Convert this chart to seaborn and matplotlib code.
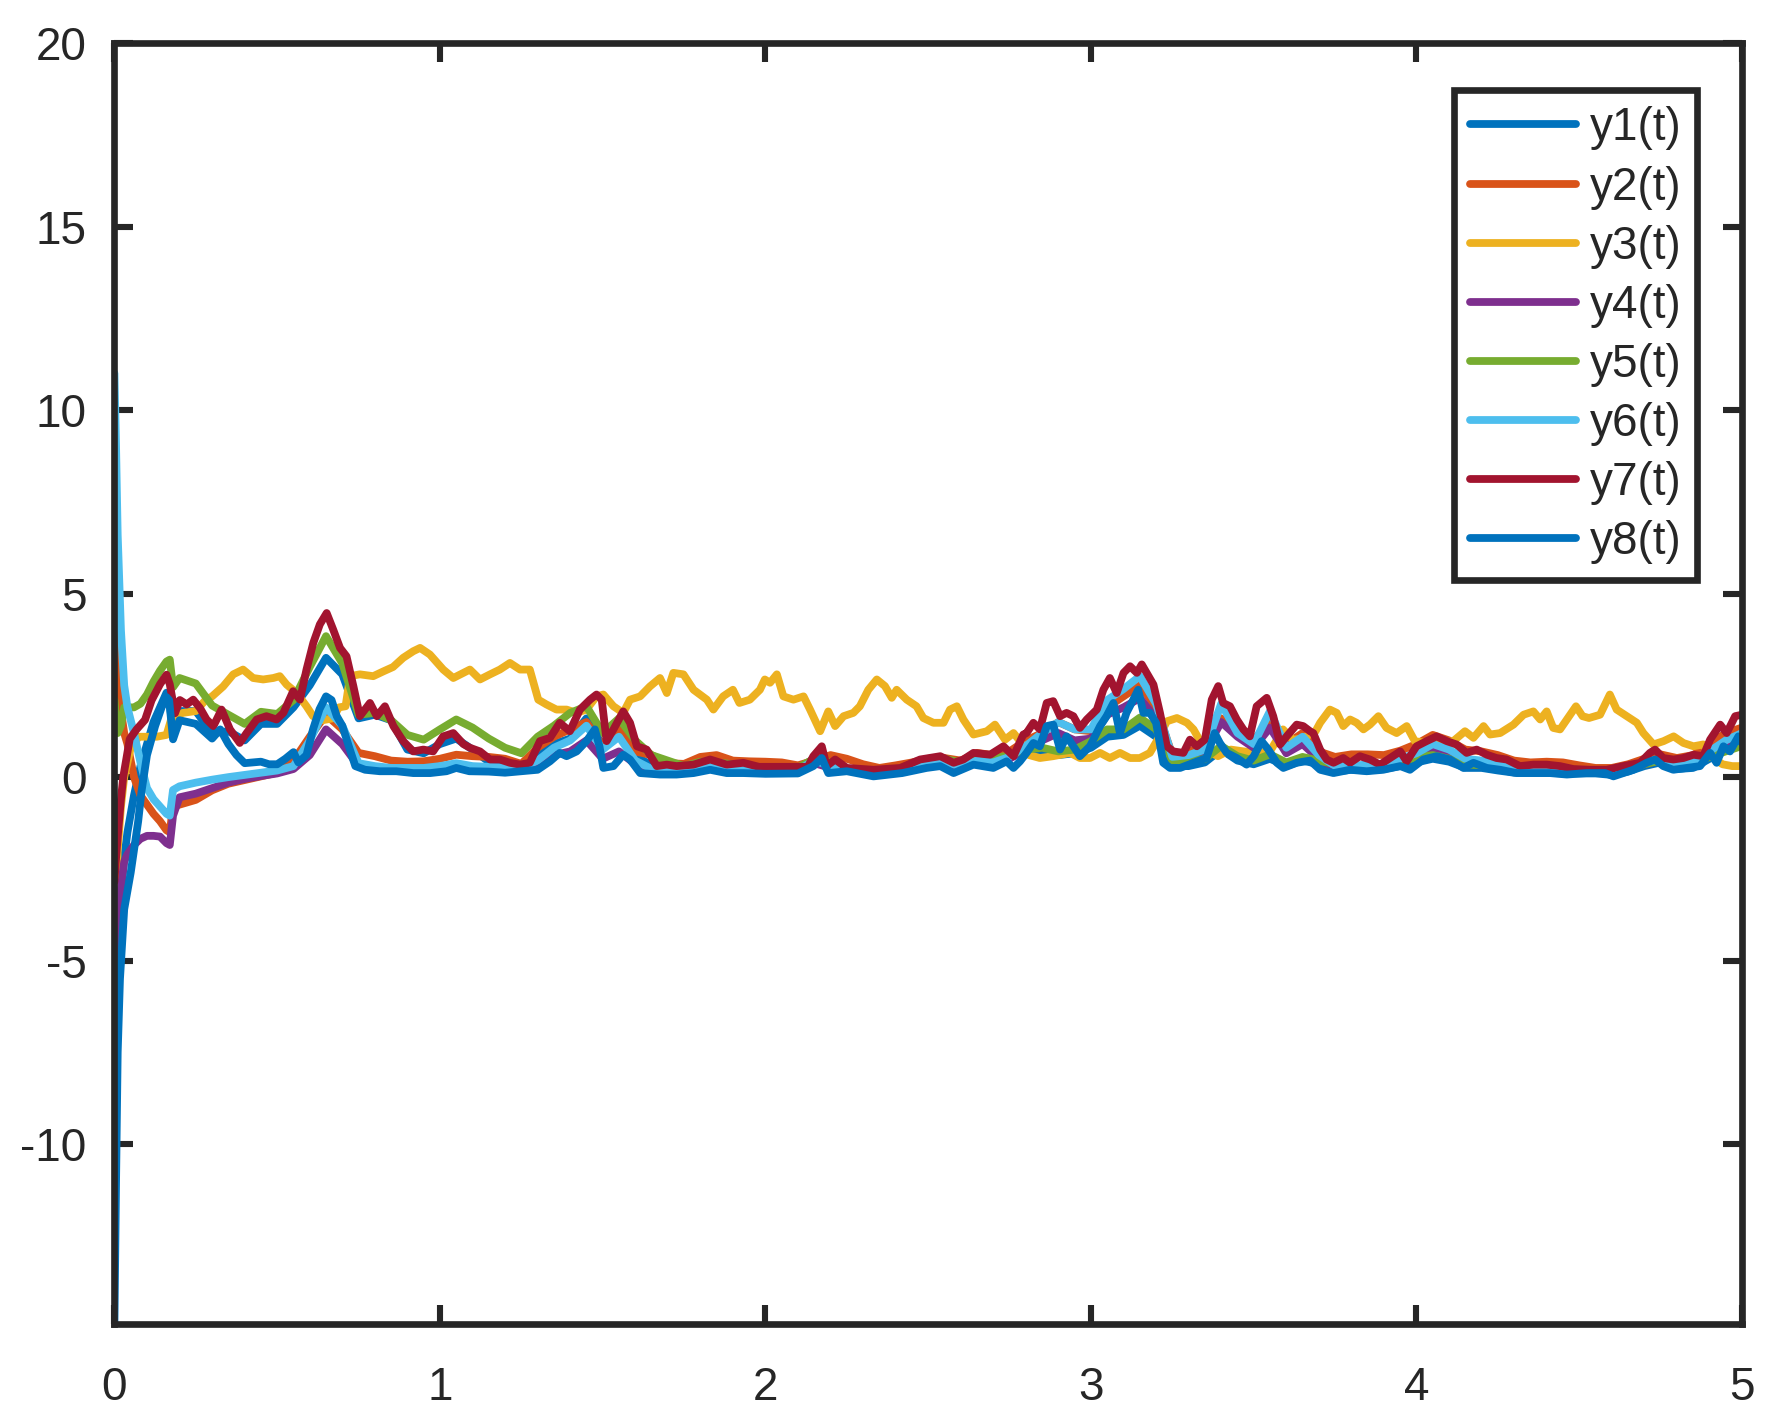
import numpy as np
import pandas as pd
import matplotlib
matplotlib.use("Agg")
import matplotlib.pyplot as plt
import seaborn as sns

# MATLAB default colour order (y8 wraps round to the first colour)
COLORS = ["#0072BD", "#D95319", "#EDB120", "#7E2F8E",
          "#77AC30", "#4DBEEE", "#A2142F", "#0072BD"]
NAMES = ["y1(t)", "y2(t)", "y3(t)", "y4(t)", "y5(t)", "y6(t)", "y7(t)", "y8(t)"]

# shared time grid for the series that sit inside the cluster
T_EARLY = [0, 0.005, 0.01, 0.02, 0.03, 0.04, 0.06, 0.08, 0.1, 0.12, 0.14, 0.16, 0.17, 0.18, 0.2]
T_COARSE = np.r_[T_EARLY, np.round(np.arange(0.25, 5.001, 0.05), 2)]

Y1 = [-9.0, -7.0, -5.0, -3.2, -2.2, -1.5, -0.5, 0.3, 0.9, 1.5, 1.9, 2.3, 2.0, 1.2, 1.8,
      1.8, 1.2, 1.25, 1.0, 1.45, 1.45, 1.9, 2.5, 3.25, 2.8, 1.6, 1.7, 1.55, 0.75, 0.65,
      0.9, 1.05, 0.75, 0.42, 0.4, 0.3, 0.6, 0.9, 1.05, 1.6, 0.85, 1.35, 0.6, 0.3, 0.25, 0.25, 0.35, 0.35, 0.3, 0.28,
      0.24, 0.24, 0.24, 0.5, 0.35, 0.22, 0.16, 0.14, 0.2, 0.35, 0.42, 0.48, 0.35, 0.55, 0.5, 0.6, 0.7, 0.7, 0.6, 0.65,
      0.8, 1.1, 1.15, 1.4, 1.1, 0.3, 0.3, 0.4, 0.75, 0.45, 0.35, 0.5, 0.3, 0.45, 0.35, 0.15, 0.2, 0.18, 0.22, 0.3,
      0.4, 0.5, 0.42, 0.25, 0.25, 0.18, 0.12, 0.12, 0.12, 0.1, 0.1, 0.1, 0.06, 0.15, 0.3, 0.4, 0.22, 0.25, 0.5, 0.75, 0.9]

Y2 = [8.4, 5.5, 3.5, 1.8, 1.2, 0.9, 0.0, -0.5, -0.75, -1.0, -1.2, -1.45, -1.5, -0.8, -0.75,
      -0.62, -0.36, -0.18, -0.08, 0.02, 0.12, 0.45, 1.1, 1.7, 1.3, 0.66, 0.57, 0.45, 0.42, 0.43,
      0.5, 0.61, 0.57, 0.55, 0.5, 0.36, 0.8, 1.1, 1.3, 1.5, 0.84, 1.35, 0.7, 0.6, 0.38, 0.36, 0.55, 0.6, 0.45, 0.43,
      0.42, 0.4, 0.32, 0.45, 0.6, 0.5, 0.35, 0.25, 0.32, 0.4, 0.5, 0.52, 0.45, 0.66, 0.6, 0.7, 1.0, 1.2, 1.5, 1.3,
      1.25, 1.9, 2.2, 2.5, 1.9, 0.6, 0.7, 0.85, 1.6, 1.3, 1.0, 1.55, 0.9, 1.2, 0.7, 0.55, 0.62, 0.62, 0.6, 0.72,
      0.9, 1.15, 1.0, 0.75, 0.7, 0.6, 0.45, 0.4, 0.42, 0.4, 0.32, 0.25, 0.25, 0.35, 0.5, 0.62, 0.52, 0.6, 0.9, 1.2, 1.35]

Y4 = [-6.8, -5.0, -4.0, -3.0, -2.3, -2.1, -1.85, -1.68, -1.6, -1.6, -1.62, -1.8, -1.85, -1.05, -0.55,
      -0.45, -0.3, -0.15, -0.05, 0.03, 0.1, 0.22, 0.6, 1.3, 0.9, 0.3, 0.22, 0.2, 0.18, 0.2,
      0.25, 0.32, 0.25, 0.22, 0.2, 0.2, 0.35, 0.6, 0.7, 1.0, 0.5, 0.7, 0.35, 0.18, 0.15, 0.16, 0.22, 0.25, 0.18, 0.16,
      0.15, 0.15, 0.15, 0.38, 0.25, 0.2, 0.12, 0.08, 0.15, 0.22, 0.3, 0.35, 0.25, 0.42, 0.35, 0.5, 0.75, 1.0, 1.2, 1.0,
      1.05, 1.7, 1.9, 2.15, 1.6, 0.5, 0.55, 0.7, 1.5, 1.1, 0.8, 1.35, 0.65, 0.9, 0.5, 0.25, 0.28, 0.3, 0.3, 0.45,
      0.6, 0.75, 0.65, 0.45, 0.4, 0.3, 0.2, 0.18, 0.18, 0.15, 0.14, 0.13, 0.1, 0.2, 0.35, 0.45, 0.3, 0.35, 0.65, 0.95, 1.1]

Y5 = [2.1, 1.6, 1.2, 1.4, 1.9, 1.9, 1.9, 2.0, 2.25, 2.6, 2.9, 3.15, 3.2, 2.45, 2.7,
      2.55, 1.95, 1.7, 1.45, 1.78, 1.72, 2.1, 3.0, 3.84, 3.1, 1.7, 1.75, 1.55, 1.15, 1.02,
      1.3, 1.57, 1.35, 1.05, 0.8, 0.65, 1.1, 1.4, 1.75, 1.93, 1.2, 1.6, 1.0, 0.6, 0.45, 0.3, 0.42, 0.4, 0.35, 0.3,
      0.26, 0.26, 0.26, 0.5, 0.4, 0.22, 0.18, 0.16, 0.2, 0.35, 0.42, 0.5, 0.4, 0.55, 0.5, 0.6, 0.75, 0.8, 0.7, 0.75,
      0.98, 1.3, 1.3, 1.62, 1.3, 0.45, 0.43, 0.5, 0.85, 0.57, 0.45, 0.62, 0.4, 0.55, 0.45, 0.35, 0.32, 0.3, 0.32, 0.4,
      0.55, 0.6, 0.5, 0.35, 0.32, 0.25, 0.2, 0.2, 0.2, 0.16, 0.15, 0.15, 0.12, 0.2, 0.35, 0.45, 0.3, 0.35, 0.55, 0.7, 0.85]

Y6 = [11.0, 9.0, 6.6, 4.0, 2.5, 1.9, 1.2, 0.4, -0.3, -0.6, -0.8, -1.0, -1.05, -0.35, -0.25,
      -0.15, -0.07, 0.0, 0.06, 0.12, 0.18, 0.3, 1.0, 1.9, 1.4, 0.38, 0.3, 0.25, 0.25, 0.25,
      0.3, 0.38, 0.3, 0.28, 0.26, 0.26, 0.45, 0.8, 1.0, 1.4, 0.75, 1.1, 0.45, 0.22, 0.18, 0.2, 0.25, 0.3, 0.22, 0.2,
      0.18, 0.2, 0.2, 0.45, 0.3, 0.22, 0.15, 0.12, 0.18, 0.25, 0.35, 0.4, 0.3, 0.45, 0.4, 0.55, 0.85, 1.2, 1.5, 1.3,
      1.3, 2.1, 2.4, 2.75, 2.0, 0.55, 0.6, 0.75, 2.0, 1.2, 0.9, 1.8, 0.8, 1.1, 0.6, 0.3, 0.3, 0.35, 0.3, 0.5,
      0.65, 0.9, 0.75, 0.5, 0.45, 0.35, 0.22, 0.2, 0.2, 0.18, 0.15, 0.15, 0.12, 0.22, 0.4, 0.5, 0.35, 0.4, 0.7, 1.0, 1.2]

# series that stand out, read at their own times
Y3_PTS = [(0, -4.5), (0.005, -3.3), (0.01, -2.0), (0.02, -0.8), (0.03, 0.0), (0.05, 0.8), (0.075, 1.1),
          (0.1, 1.1), (0.13, 1.1), (0.16, 1.15), (0.175, 1.6), (0.21, 1.75), (0.25, 1.8), (0.28, 2.1),
          (0.3, 2.2), (0.334, 2.47), (0.365, 2.8), (0.395, 2.93), (0.426, 2.7), (0.457, 2.66), (0.488, 2.7),
          (0.508, 2.75), (0.529, 2.52), (0.56, 2.29), (0.59, 1.93), (0.61, 1.66), (0.64, 1.55), (0.67, 1.6),
          (0.69, 1.9), (0.71, 1.93), (0.724, 2.75), (0.754, 2.8), (0.795, 2.75), (0.826, 2.88), (0.856, 3.0),
          (0.887, 3.25), (0.918, 3.43), (0.939, 3.52), (0.969, 3.34), (1.01, 2.93), (1.041, 2.7), (1.072, 2.84),
          (1.092, 2.93), (1.123, 2.66), (1.154, 2.8), (1.184, 2.93), (1.215, 3.11), (1.246, 2.93), (1.276, 2.93),
          (1.302, 2.11), (1.327, 1.98), (1.358, 1.84), (1.389, 1.84), (1.42, 1.75), (1.45, 1.84), (1.481, 2.2),
          (1.502, 2.25), (1.533, 1.93), (1.563, 1.75), (1.584, 2.11), (1.615, 2.2), (1.645, 2.47), (1.676, 2.7),
          (1.697, 2.29), (1.717, 2.84), (1.748, 2.8), (1.779, 2.38), (1.82, 2.11), (1.84, 1.84), (1.87, 2.2),
          (1.9, 2.38), (1.92, 2.02), (1.952, 2.11), (1.983, 2.38), (1.998, 2.66), (2.014, 2.57), (2.035, 2.8),
          (2.055, 2.2), (2.086, 2.11), (2.117, 2.2), (2.137, 1.84), (2.168, 1.25), (2.193, 1.79), (2.214, 1.39),
          (2.24, 1.66), (2.27, 1.75), (2.29, 1.93), (2.316, 2.38), (2.342, 2.66), (2.367, 2.48), (2.388, 2.16),
          (2.403, 2.38), (2.434, 2.11), (2.464, 1.93), (2.485, 1.61), (2.516, 1.48), (2.547, 1.48), (2.567, 1.84),
          (2.588, 1.93), (2.608, 1.57), (2.639, 1.16), (2.68, 1.25), (2.705, 1.43), (2.736, 1.02), (2.762, 1.2),
          (2.782, 0.98), (2.81, 0.6), (2.843, 0.52), (2.884, 0.57), (2.936, 0.66), (2.966, 0.52), (2.997, 0.52),
          (3.028, 0.66), (3.058, 0.52), (3.089, 0.66), (3.12, 0.52), (3.15, 0.52), (3.181, 0.66), (3.21, 1.1),
          (3.233, 1.52), (3.264, 1.61), (3.295, 1.48), (3.315, 1.3), (3.35, 0.75), (3.39, 0.57), (3.43, 0.75),
          (3.47, 0.7), (3.51, 0.66), (3.55, 0.7), (3.59, 1.3), (3.62, 1.02), (3.65, 1.05), (3.69, 1.25),
          (3.704, 1.48), (3.734, 1.84), (3.755, 1.75), (3.775, 1.39), (3.796, 1.57), (3.816, 1.48), (3.837, 1.3),
          (3.857, 1.43), (3.883, 1.66), (3.908, 1.34), (3.939, 1.2), (3.97, 1.39), (3.995, 0.98), (4.031, 0.93),
          (4.072, 0.93), (4.113, 0.98), (4.149, 1.25), (4.175, 1.07), (4.206, 1.39), (4.226, 1.16), (4.257, 1.2),
          (4.298, 1.43), (4.329, 1.7), (4.359, 1.79), (4.38, 1.57), (4.4, 1.79), (4.42, 1.34), (4.441, 1.3),
          (4.462, 1.57), (4.49, 1.93), (4.51, 1.66), (4.53, 1.61), (4.564, 1.7), (4.594, 2.25), (4.615, 1.84),
          (4.646, 1.66), (4.677, 1.48), (4.697, 1.2), (4.728, 0.89), (4.759, 0.98), (4.79, 1.11), (4.82, 0.93),
          (4.851, 0.84), (4.881, 0.89), (4.9, 0.6), (4.94, 0.35), (4.97, 0.3), (5.0, 0.3)]

Y7_PTS = [(0, -2.85), (0.005, -2.2), (0.012, -1.42), (0.02, -0.6), (0.027, 0.0), (0.047, 1.04), (0.068, 1.3),
          (0.094, 1.56), (0.114, 2.09), (0.14, 2.53), (0.16, 2.79), (0.17, 2.53), (0.186, 1.74), (0.201, 2.1),
          (0.222, 1.98), (0.242, 2.11), (0.263, 1.88), (0.283, 1.57), (0.304, 1.39), (0.329, 1.84), (0.355, 1.3),
          (0.385, 0.93), (0.406, 1.2), (0.437, 1.57), (0.467, 1.66), (0.498, 1.57), (0.519, 1.75), (0.549, 2.34),
          (0.57, 2.11), (0.59, 2.93), (0.611, 3.66), (0.631, 4.16), (0.652, 4.47), (0.672, 4.02), (0.693, 3.52),
          (0.713, 3.29), (0.734, 2.48), (0.754, 1.66), (0.785, 2.02), (0.806, 1.66), (0.831, 1.93), (0.857, 1.39),
          (0.887, 0.98), (0.918, 0.7), (0.949, 0.75), (0.979, 0.7), (1.01, 1.11), (1.041, 1.2), (1.072, 0.9),
          (1.092, 0.8), (1.123, 0.7), (1.154, 0.48), (1.184, 0.48), (1.215, 0.39), (1.246, 0.34), (1.276, 0.39),
          (1.307, 0.98), (1.338, 1.07), (1.368, 1.48), (1.399, 1.25), (1.43, 1.84), (1.461, 2.11), (1.481, 2.25),
          (1.497, 2.11), (1.512, 0.98), (1.533, 1.3), (1.563, 1.79), (1.584, 1.48), (1.605, 0.84), (1.635, 0.75),
          (1.666, 0.3), (1.697, 0.34), (1.727, 0.3), (1.779, 0.34), (1.83, 0.48), (1.881, 0.34), (1.932, 0.39),
          (1.98, 0.28), (2.05, 0.28), (2.13, 0.28), (2.147, 0.57), (2.173, 0.84), (2.188, 0.3), (2.214, 0.48),
          (2.25, 0.25), (2.332, 0.2), (2.414, 0.25), (2.475, 0.48), (2.537, 0.57), (2.578, 0.39), (2.608, 0.48),
          (2.639, 0.66), (2.69, 0.61), (2.731, 0.84), (2.762, 0.57), (2.792, 1.16), (2.802, 1.2), (2.823, 1.48),
          (2.843, 1.3), (2.864, 2.02), (2.884, 2.07), (2.905, 1.66), (2.925, 1.75), (2.946, 1.66), (2.966, 1.34),
          (2.987, 1.57), (3.018, 1.84), (3.038, 2.38), (3.058, 2.7), (3.079, 2.29), (3.1, 2.84), (3.12, 3.02),
          (3.141, 2.84), (3.156, 3.07), (3.171, 2.84), (3.192, 2.52), (3.212, 1.75), (3.233, 0.84), (3.253, 0.7),
          (3.284, 0.66), (3.304, 1.02), (3.325, 0.84), (3.35, 1.02), (3.371, 2.11), (3.391, 2.48), (3.406, 2.02),
          (3.427, 1.93), (3.448, 1.57), (3.468, 1.3), (3.488, 1.11), (3.509, 1.93), (3.54, 2.16), (3.56, 1.66),
          (3.581, 0.89), (3.601, 1.11), (3.632, 1.43), (3.652, 1.39), (3.673, 1.25), (3.683, 1.2), (3.704, 0.75),
          (3.724, 0.48), (3.745, 0.39), (3.775, 0.52), (3.796, 0.39), (3.826, 0.57), (3.857, 0.48), (3.888, 0.34),
          (3.919, 0.52), (3.95, 0.7), (3.97, 0.43), (4.0, 0.84), (4.031, 0.98), (4.062, 1.11), (4.093, 0.98),
          (4.123, 0.89), (4.154, 0.66), (4.185, 0.75), (4.216, 0.61), (4.246, 0.52), (4.277, 0.48), (4.318, 0.3),
          (4.359, 0.34), (4.4, 0.34), (4.441, 0.3), (4.482, 0.22), (4.533, 0.2), (4.584, 0.2), (4.635, 0.3),
          (4.687, 0.39), (4.717, 0.66), (4.733, 0.75), (4.758, 0.52), (4.789, 0.48), (4.82, 0.52), (4.851, 0.61),
          (4.881, 0.57), (4.902, 1.02), (4.933, 1.43), (4.953, 1.2), (4.979, 1.66), (5.0, 1.7)]

Y8_PTS = [(0, -14.9), (0.005, -11.0), (0.01, -7.5), (0.017, -5.5), (0.03, -3.6), (0.05, -2.6), (0.06, -2.0),
          (0.073, -1.2), (0.083, -0.4), (0.1, 0.6), (0.125, 1.39), (0.145, 1.9), (0.16, 2.18), (0.168, 2.1),
          (0.18, 1.03), (0.2, 1.55), (0.225, 1.5), (0.25, 1.45), (0.275, 1.25), (0.3, 1.05), (0.325, 1.3),
          (0.35, 0.9), (0.375, 0.6), (0.4, 0.38), (0.425, 0.4), (0.45, 0.42), (0.475, 0.35), (0.5, 0.35),
          (0.525, 0.5), (0.55, 0.68), (0.565, 0.4), (0.59, 0.6), (0.61, 1.3), (0.63, 1.85), (0.65, 2.2),
          (0.667, 2.1), (0.683, 1.66), (0.7, 1.4), (0.72, 0.84), (0.74, 0.3), (0.77, 0.2), (0.815, 0.16),
          (0.866, 0.16), (0.918, 0.11), (0.97, 0.11), (1.02, 0.16), (1.05, 0.25), (1.09, 0.16), (1.15, 0.15),
          (1.2, 0.12), (1.25, 0.16), (1.3, 0.2), (1.338, 0.43), (1.368, 0.66), (1.389, 0.57), (1.42, 0.7),
          (1.45, 0.98), (1.476, 1.3), (1.49, 0.84), (1.502, 0.25), (1.533, 0.3), (1.563, 0.61), (1.584, 0.48),
          (1.615, 0.11), (1.676, 0.07), (1.727, 0.07), (1.779, 0.11), (1.83, 0.2), (1.881, 0.11), (1.932, 0.11),
          (2.0, 0.09), (2.1, 0.1), (2.147, 0.3), (2.173, 0.52), (2.193, 0.11), (2.25, 0.16), (2.332, 0.02),
          (2.42, 0.11), (2.495, 0.25), (2.537, 0.3), (2.578, 0.11), (2.639, 0.34), (2.7, 0.25), (2.741, 0.43),
          (2.762, 0.25), (2.782, 0.43), (2.802, 0.66), (2.823, 0.93), (2.843, 0.84), (2.864, 1.39), (2.884, 1.43),
          (2.905, 0.75), (2.925, 1.11), (2.946, 0.84), (2.966, 0.57), (2.997, 0.84), (3.028, 1.39), (3.048, 1.66),
          (3.069, 2.02), (3.089, 1.2), (3.109, 1.75), (3.13, 2.11), (3.145, 2.38), (3.161, 1.75), (3.181, 1.75),
          (3.2, 1.48), (3.222, 0.39), (3.243, 0.25), (3.274, 0.25), (3.315, 0.39), (3.355, 0.52), (3.38, 1.2),
          (3.396, 0.93), (3.417, 0.66), (3.448, 0.52), (3.478, 0.34), (3.5, 0.57), (3.524, 0.98), (3.545, 0.75),
          (3.571, 0.39), (3.591, 0.25), (3.632, 0.39), (3.673, 0.45), (3.704, 0.2), (3.745, 0.11), (3.796, 0.2),
          (3.847, 0.16), (3.898, 0.2), (3.95, 0.3), (3.98, 0.2), (4.021, 0.48), (4.062, 0.57), (4.103, 0.48),
          (4.144, 0.25), (4.175, 0.39), (4.216, 0.25), (4.257, 0.2), (4.308, 0.11), (4.359, 0.11), (4.41, 0.11),
          (4.462, 0.07), (4.523, 0.11), (4.58, 0.11), (4.605, 0.02), (4.666, 0.2), (4.707, 0.39), (4.733, 0.48),
          (4.758, 0.3), (4.789, 0.2), (4.83, 0.25), (4.871, 0.3), (4.902, 0.66), (4.922, 0.39), (4.943, 0.84),
          (4.963, 0.7), (4.989, 1.11), (5.0, 0.93)]

X_TICKS = [0, 1, 2, 3, 4, 5]
Y_TICKS = [-10, -5, 0, 5, 10, 15, 20]

INK = "#262626"


def build_frame():
    parts = []
    coarse = {"y1(t)": Y1, "y2(t)": Y2, "y4(t)": Y4, "y5(t)": Y5, "y6(t)": Y6}
    for name, vals in coarse.items():
        parts.append(pd.DataFrame({"t": T_COARSE, "y": vals, "series": name}))
    pts = {"y3(t)": Y3_PTS, "y7(t)": Y7_PTS, "y8(t)": Y8_PTS}
    for name, p in pts.items():
        t, v = zip(*p)
        parts.append(pd.DataFrame({"t": t, "y": v, "series": name}))
    df = pd.concat(parts, ignore_index=True)
    df["series"] = pd.Categorical(df["series"], categories=NAMES, ordered=True)
    return df


sns.set_theme(style="ticks")
plt.rcParams["font.family"] = ["Liberation Sans", "DejaVu Sans"]
plt.rcParams["axes.unicode_minus"] = False

df = build_frame()

fig = plt.figure(figsize=(1777 / 200, 1428 / 200), dpi=200)
ax = fig.add_axes([0.0644, 0.0728, 0.9159, 0.8971])

sns.lineplot(data=df, x="t", y="y", hue="series", hue_order=NAMES,
             palette=COLORS, estimator=None, sort=False, linewidth=2.8, ax=ax)

ax.set_xlim(0, 5)
ax.set_ylim(-14.9, 20)
ax.set_xticks(X_TICKS)
ax.set_yticks(Y_TICKS)
ax.set_xlabel("")
ax.set_ylabel("")

for side in ["left", "right", "top", "bottom"]:
    ax.spines[side].set_visible(True)
    ax.spines[side].set_color(INK)
    ax.spines[side].set_linewidth(2.4)

ax.tick_params(axis="both", which="both", direction="in", length=7, width=2.2,
               color=INK, labelcolor=INK, labelsize=16.5,
               top=True, right=True, bottom=True, left=True)
ax.tick_params(axis="x", pad=15)
ax.tick_params(axis="y", pad=10)

leg = ax.legend(loc="upper right", bbox_to_anchor=(0.9725, 0.963), borderaxespad=0,
                fontsize=16.5, frameon=True, fancybox=False, framealpha=1,
                handlelength=2.3, handletextpad=0.3, labelspacing=0.33,
                borderpad=0.35)
leg.get_frame().set_edgecolor(INK)
leg.get_frame().set_linewidth(2.4)
for line in leg.get_lines():
    line.set_linewidth(2.8)

fig.savefig("out.png", dpi=200)
